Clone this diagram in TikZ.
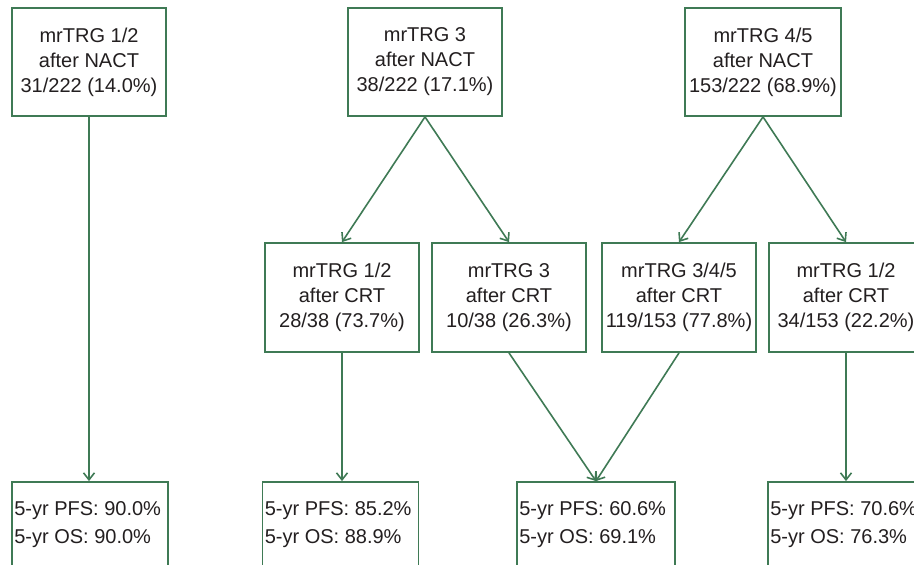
\documentclass[tikz,border=0pt]{standalone}
\usepackage{fontspec}
\setmainfont{Liberation Sans}
\usetikzlibrary{arrows.meta}
\definecolor{boxgreen}{HTML}{3F7A55}
\definecolor{txt}{HTML}{231F20}
\begin{document}
\begin{tikzpicture}[x=1pt,y=-1pt,
  box/.style={draw=boxgreen, line width=1.8pt, rectangle, inner sep=0pt,
    minimum width=154pt, text=txt, font=\fontsize{20}{25}\selectfont, align=center},
  topbox/.style={box, minimum height=108pt},
  midbox/.style={box, minimum height=109pt},
  botbox/.style={draw=boxgreen, line width=1.8pt, rectangle, inner sep=0pt,
    minimum height=118pt, text=txt, font=\fontsize{20}{28}\selectfont},
  conn/.style={draw=boxgreen, line width=1.6pt, -{Straight Barb[length=7pt,width=11pt]}}
]
\useasboundingbox (0,0) rectangle (914,565);
\clip (0,0) rectangle (914,565);
\fill[white] (0,0) rectangle (914,565);

% top row
\node[topbox] (t1) at (89,62) {mrTRG 1/2\\after NACT\\31/222 (14.0\%)};
\node[topbox] (t2) at (425,62) {mrTRG 3\\after NACT\\38/222 (17.1\%)};
\node[topbox, minimum width=156pt] (t3) at (763,62) {mrTRG 4/5\\after NACT\\153/222 (68.9\%)};

% middle row
\node[midbox] (m1) at (342,297.5) {mrTRG 1/2\\after CRT\\28/38 (73.7\%)};
\node[midbox] (m2) at (509,297.5) {mrTRG 3\\after CRT\\10/38 (26.3\%)};
\node[midbox] (m3) at (679,297.5) {mrTRG 3/4/5\\after CRT\\119/153 (77.8\%)};
\node[midbox] (m4) at (846,297.5) {mrTRG 1/2\\after CRT\\34/153 (22.2\%)};

% bottom row (boxes run past the lower edge)
\node[botbox, minimum width=156pt] (b1) at (90,541) {};
\node[botbox, minimum width=156pt] (b2) at (340.5,541) {};
\node[botbox, minimum width=158pt] (b3) at (596,541) {};
\node[botbox, minimum width=156pt] (b4) at (846,541) {};

\foreach \n/\p/\o in {b1/90.0/90.0, b2/85.2/88.9, b3/60.6/69.1, b4/70.6/76.3}{
  \node[anchor=north west, inner sep=0pt, text=txt, font=\fontsize{20}{28}\selectfont,
        align=left] (\n txt) at ([xshift=3pt,yshift=-20pt]\n.north west)
        {5-yr PFS: \p\%\\5-yr OS: \o\%};
}

% connectors
\draw[conn] (t1.south) -- (b1.north -| t1.south);
\draw[conn] (t2.south) -- (m1.north);
\draw[conn] (t2.south) -- (m2.north);
\draw[conn] (t3.south) -- (m3.north);
\draw[conn] (t3.south) -- (m4.north);
\draw[conn] (m1.south) -- (b2.north -| m1.south);
\draw[conn] (m2.south) -- (b3.north);
\draw[conn] (m3.south) -- (b3.north);
\draw[conn] (m4.south) -- (b4.north);
\end{tikzpicture}
\end{document}
